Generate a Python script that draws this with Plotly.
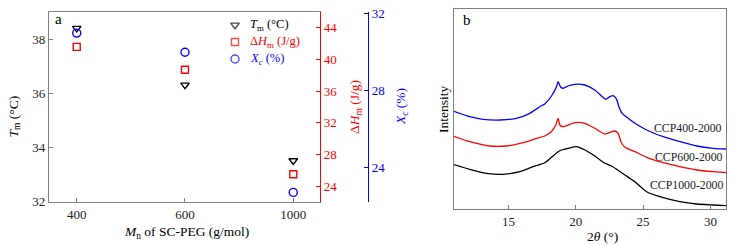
import plotly.graph_objects as go

W, H = 742, 246
def px(x): return x / W
def py(y): return 1 - y / H

# ---- Panel a data ----
mn_labels = ["400", "600", "1000"]
tm_vals = [38.4, 36.3, 33.5]          # Tm (°C), left axis
dhm_vals = [41.6, 38.7, 25.5]         # ΔHm (J/g), red axis
xc_vals = [31.0, 30.0, 22.7]          # Xc (%), blue axis

legend_labels = ["<i>T</i><sub>m</sub> (°C)",
                 "Δ<i>H</i><sub>m</sub> (J/g)",
                 "<i>X</i><sub><i>c</i></sub> (%)"]

# ---- Panel b data (XRD) ----
tt_400 = [10.87, 12.11, 13.1, 14.35, 15.59, 16.58, 17.32, 17.69, 18.19, 18.56, 18.68, 18.88, 19.06,
          19.43, 19.93, 20.67, 21.41, 21.91, 22.21, 22.53, 22.78, 23.03, 23.2, 23.44, 23.89, 24.39,
          25.26, 26.5, 27.74, 28.98, 30.22, 31.16]
int_400 = [98, 92.3, 89.7, 89, 90.7, 95.7, 102.3, 105, 113, 122.3, 127.3, 121.7, 120.7,
           123, 124.7, 124, 119, 113, 109.7, 112.3, 113.3, 109.7, 102.3, 95.7, 90.7, 85.7,
           79, 72.3, 67.3, 63, 60.7, 60]

tt_600 = [10.87, 12.11, 13.6, 14.84, 16.08, 17.08, 17.69, 18.19, 18.51, 18.68, 18.81, 19.06, 19.93,
          20.67, 21.41, 22.16, 22.66, 22.9, 23.15, 23.35, 23.65, 24.39, 25.26, 26.5, 27.74, 28.98,
          30.22, 31.16]
int_600 = [73, 67.3, 63, 63, 66.3, 70.7, 73, 77.5, 84, 90.7, 84, 82.3, 86.3,
           85.7, 80.7, 75, 77.3, 78, 75.7, 67.3, 61.7, 57.3, 51.7, 46.3, 42.3, 39,
           37.3, 36.3]

tt_1000 = [10.87, 12.11, 13.36, 14.59, 15.83, 16.82, 17.69, 18.19, 18.68, 18.94, 19.43, 20.05, 20.67,
           21.41, 22.16, 22.66, 23.03, 23.65, 24.39, 25.26, 26.5, 27.74, 28.98, 30.22, 31.16]
int_1000 = [44.7, 39.7, 35.7, 34.7, 37.3, 42.3, 46.3, 51.7, 57.3, 59, 60.7, 62.3, 59,
            53, 45.7, 43, 39.7, 34, 27.3, 17.3, 11.3, 7.3, 5, 4, 3.3]

series_names = ["CCP400-2000", "CCP600-2000", "CCP1000-2000"]
label_x = [28.36, 28.41, 28.26]
label_y = [80.7, 52.3, 24.0]

RED = "#ff0000"
BLUE = "#0000ff"
GRAY = "#7f7f7f"
FONT = "Liberation Serif, Times New Roman, serif"

symbols = ["triangle-down-open", "square-open", "circle-open"]
sizes = [7.5, 7, 8]
colors = ["black", RED, BLUE]

fig = go.Figure()

for vals, ax, sym, sz, col in zip([tm_vals, dhm_vals, xc_vals], ["y", "y2", "y3"], symbols, sizes, colors):
    fig.add_trace(go.Scatter(x=mn_labels, y=vals, mode="markers", xaxis="x", yaxis=ax,
                             showlegend=False,
                             marker=dict(symbol=sym, size=sz, color=col, line=dict(width=1.4))))

# manual legend keys (one row per series)
rows = list(range(len(legend_labels)))
fig.add_trace(go.Scatter(x=[0.5] * len(rows), y=rows, mode="markers", xaxis="x3", yaxis="y5",
                         showlegend=False, hoverinfo="skip",
                         marker=dict(symbol=symbols, size=sizes, color=colors, line=dict(width=1.4))))

for tt, it, col in [(tt_400, int_400, BLUE), (tt_600, int_600, RED), (tt_1000, int_1000, "black")]:
    fig.add_trace(go.Scatter(x=tt, y=it, mode="lines", xaxis="x2", yaxis="y4", showlegend=False,
                             line=dict(color=col, width=1.3, shape="spline", smoothing=0.5)))

annotations = []
for name, lx, ly in zip(series_names, label_x, label_y):
    annotations.append(dict(x=lx, y=ly, xref="x2", yref="y4", text=name, showarrow=False,
                            font=dict(family=FONT, size=11.8, color="#222")))

for r, lab, col in zip(rows, legend_labels, colors):
    annotations.append(dict(x=px(248), y=r, xref="paper", yref="y5", text=lab, showarrow=False,
                            xanchor="left", yanchor="middle",
                            font=dict(family=FONT, size=12.5, color=col)))

def ann(xp, yp, text, color="black", angle=0, size=13.5):
    annotations.append(dict(x=px(xp), y=py(yp), xref="paper", yref="paper", text=text,
                            showarrow=False, textangle=angle, xanchor="center", yanchor="middle",
                            font=dict(family=FONT, size=size, color=color)))

ann(13.5, 117, "<i>T</i><sub>m</sub> (°C)", angle=-90)
ann(355, 107, "Δ<i>H</i><sub>m</sub> (J/g)", color=RED, angle=-90)
ann(401, 107, "<i>X</i><sub><i>c</i></sub> (%)", color=BLUE, angle=-90)
ann(186, 232, "<i>M</i><sub>n</sub> of SC-PEG (g/mol)")
ann(602, 236, "2<i>θ</i> (°)")
ann(443, 110, "Intensity", angle=-90)
ann(58, 19, "a", size=15)
ann(467, 20, "b", size=15)

tickfont = dict(family=FONT, size=13, color="#222")

fig.update_layout(
    width=W, height=H, margin=dict(l=0, r=0, t=0, b=0, autoexpand=False),
    paper_bgcolor="white", plot_bgcolor="white",
    font=dict(family=FONT, size=13, color="black"),
    showlegend=False,
    xaxis=dict(domain=[px(49), px(320)], type="category", range=[-0.256, 2.247],
               showline=True, linecolor=GRAY, linewidth=1.3, mirror=True,
               ticks="inside", ticklen=4, tickcolor=GRAY, tickfont=tickfont,
               showgrid=False, zeroline=False, anchor="y"),
    yaxis=dict(domain=[py(202), py(12)], range=[31.97, 39.0], tickvals=[32, 34, 36, 38],
               showline=True, linecolor=GRAY, linewidth=1.3,
               ticks="inside", ticklen=4, tickcolor=GRAY, tickfont=tickfont,
               showgrid=False, zeroline=False, anchor="x"),
    yaxis2=dict(overlaying="y", side="right", anchor="x", range=[22, 46],
                tickvals=[24, 28, 32, 36, 40, 44],
                showline=True, linecolor=RED, linewidth=1.3,
                ticks="inside", ticklen=4, tickcolor=RED,
                tickfont=dict(family=FONT, size=13, color=RED),
                showgrid=False, zeroline=False),
    yaxis3=dict(overlaying="y", side="right", anchor="free", position=px(368),
                range=[22.2, 32.1], tickvals=[24, 28, 32],
                showline=True, linecolor=BLUE, linewidth=1.3,
                ticks="inside", ticklen=4, tickcolor=BLUE,
                tickfont=dict(family=FONT, size=13, color=BLUE),
                showgrid=False, zeroline=False),
    xaxis2=dict(domain=[px(454), px(726)], range=[10.945, 31.16], tickvals=[15, 20, 25, 30],
                showline=True, linecolor=GRAY, linewidth=1.3, mirror=True,
                ticks="inside", ticklen=4, tickcolor=GRAY, tickfont=tickfont,
                showgrid=False, zeroline=False, anchor="y4"),
    yaxis4=dict(domain=[py(209), py(9)], range=[0, 200], showticklabels=False, ticks="",
                showline=True, linecolor=GRAY, linewidth=1.3, mirror=True,
                showgrid=False, zeroline=False, anchor="x2"),
    xaxis3=dict(domain=[px(227), px(243)], range=[0, 1], visible=False, anchor="y5"),
    yaxis5=dict(domain=[py(67.5), py(16.5)], range=[2.5, -0.5], visible=False, anchor="x3"),
    annotations=annotations,
)

fig.write_html("out.html", config={"displayModeBar": False},
               post_script="document.body.style.margin='0';document.body.style.overflow='hidden';")
